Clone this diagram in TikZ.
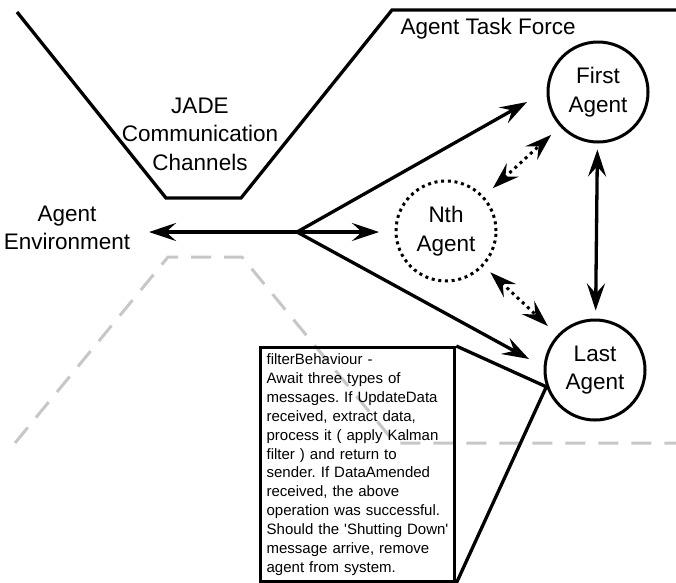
\documentclass[tikz,border=0pt]{standalone}
\usepackage{fontspec}
\setmainfont{Liberation Sans}
\newfontfamily\notefont{Liberation Sans}
\usetikzlibrary{arrows.meta}
\frenchspacing

\begin{document}
\begin{tikzpicture}[x=1pt,y=-1pt,
            >={Stealth[length=27pt,width=18pt,inset=10pt]}]
            \tikzstyle{agent}=[circle,draw,line width=3pt,minimum size=100pt,inner sep=0pt,align=center,font=\fontsize{22.5}{28.5}\selectfont]
            \tikzstyle{areatext}=[align=center,font=\fontsize{22.5}{28.5}\selectfont]
            \tikzstyle{link}=[line width=3.3pt]
            \tikzstyle{dotlink}=[line width=3pt,dash pattern=on 3pt off 4pt]
            \tikzstyle{zone}=[line width=3pt,draw=black!22,dash pattern=on 20pt off 13pt]
            \useasboundingbox (0,0) rectangle (676,582);
            % environment boundary
            \draw[zone] (15,443) -- (168,257) -- (242,257) -- (395,443) -- (676,443);
            % channel border
            \draw[link] (17,12) -- (166,198) -- (241,198) -- (392,10) -- (676,10);
            \node[areatext] (jade) at (200,134) {JADE\\Communication\\Channels};
            \node[areatext] (env) at (67,228) {Agent\\Environment};
            \node[areatext,anchor=west] (force) at (397,29) {Agent Task Force};
            \node[agent] (first) at (598,92) {First\\Agent};
            \node[agent,dash pattern=on 3pt off 3.7pt] (nth) at (446,231) {Nth\\Agent};
            \node[agent] (last) at (595,370) {Last\\Agent};
            \node[draw,line width=3.3pt,anchor=north west,text width=182pt,inner sep=6pt,align=left,
                font=\notefont\fontsize{15}{18.9}\selectfont] (note) at (259,346)
                {filterBehaviour -\\Await three types of\\messages. If UpdateData\\received, extract data,\\process it ( apply Kalman\\filter ) and return to\\sender. If DataAmended\\received, the above\\operation was successful.\\Should the 'Shutting Down'\\message arrive, remove\\agent from system.};
            \coordinate (hub) at (297,232);
            \coordinate (envtip) at (149,232);
            \coordinate (nthtip) at (379,232);
            \coordinate (firsttip) at (527,102);
            \coordinate (lasttip) at (529,359);
            \draw[link,->] (hub) -- (envtip);
            \draw[link,->] (hub) -- (nthtip);
            \draw[link,->] (hub) -- (firsttip);
            \draw[link,->] (hub) -- (lasttip);
            \draw[link,<->,shorten <=6pt,shorten >=8pt] (first) -- (last);
            \draw[dotlink,<->,shorten <=12pt,shorten >=12pt] (nth) -- (first);
            \draw[dotlink,<->,shorten <=9pt,shorten >=13pt] (nth) -- (last);
            % callout
            \draw[link] (note.north east) -- (last.199) -- (note.south east);
        \end{tikzpicture}
\end{document}
